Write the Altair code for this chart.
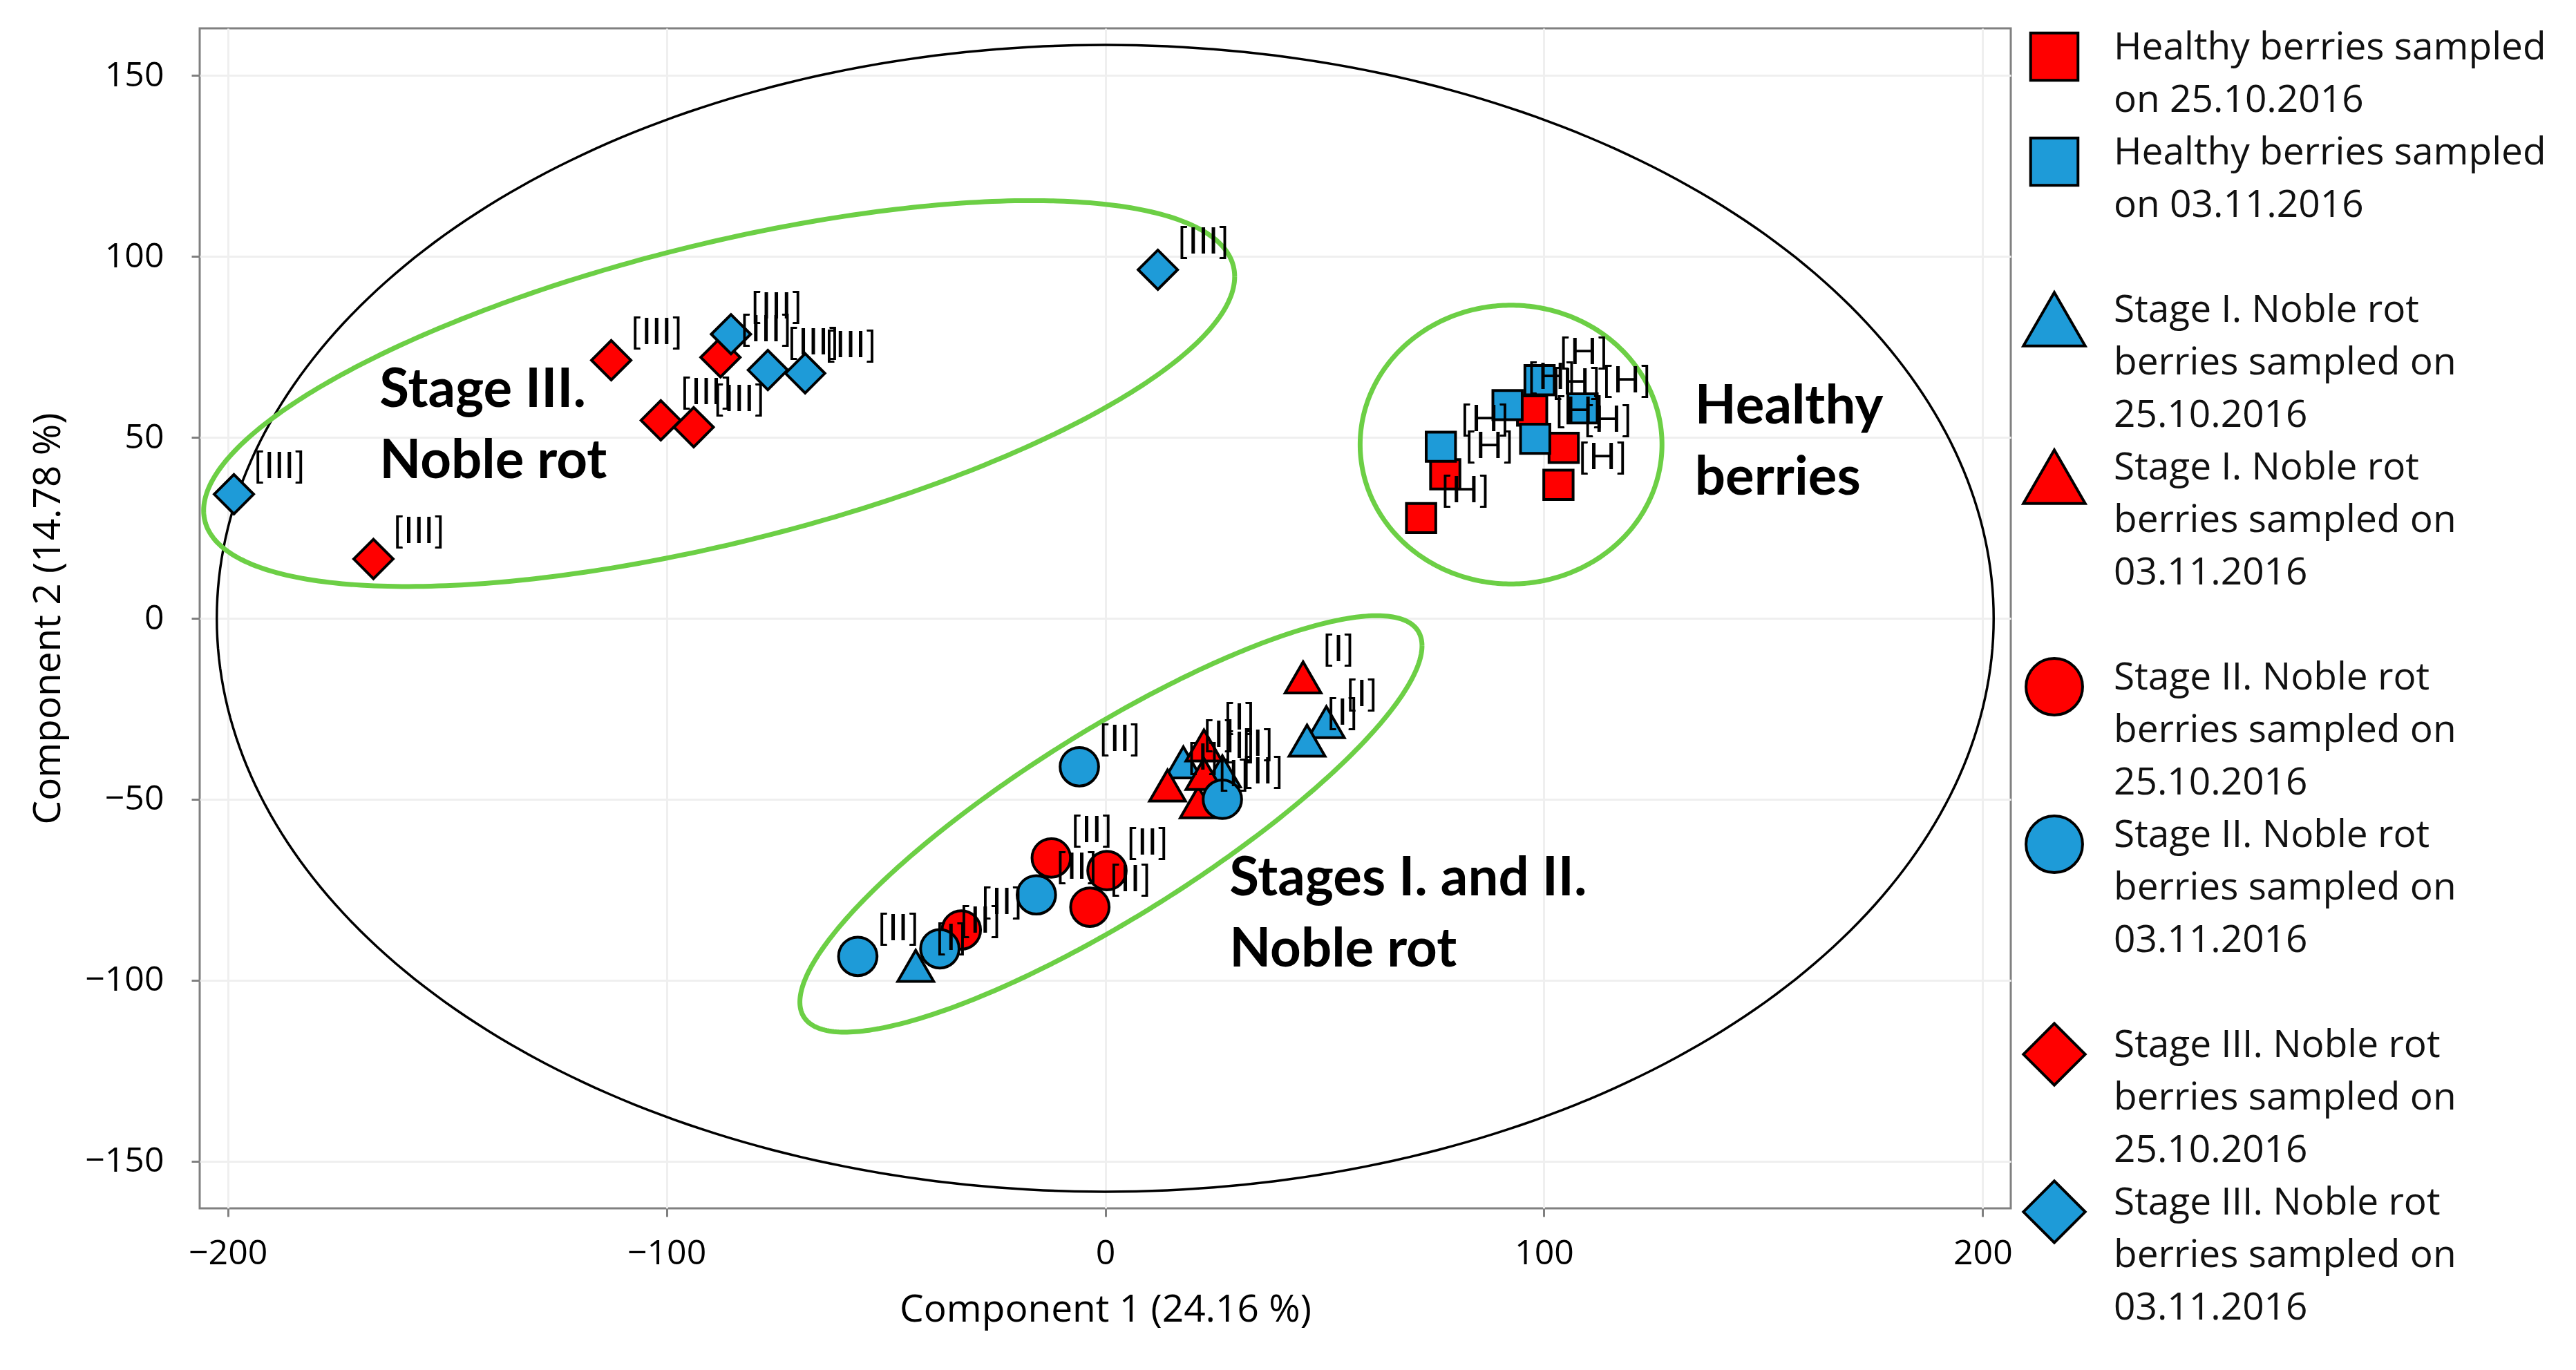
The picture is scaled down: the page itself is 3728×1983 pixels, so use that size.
import altair as alt
import numpy as np
import pandas as pd

# ---------------- data ----------------
GROUP_LABELS = [
    "Healthy berries sampled\non 25.10.2016",
    "Healthy berries sampled\non 03.11.2016",
    "Stage I. Noble rot\nberries sampled on\n25.10.2016",
    "Stage I. Noble rot\nberries sampled on\n03.11.2016",
    "Stage II. Noble rot\nberries sampled on\n25.10.2016",
    "Stage II. Noble rot\nberries sampled on\n03.11.2016",
    "Stage III. Noble rot\nberries sampled on\n25.10.2016",
    "Stage III. Noble rot\nberries sampled on\n03.11.2016",
]
GROUP_STAGE = ["H", "H", "I", "I", "II", "II", "III", "III"]
GROUP_TAG = ["[H]", "[H]", "[I]", "[I]", "[II]", "[II]", "[III]", "[III]"]

h25_x = [72.0, 77.5, 97.3, 104.5, 103.3]
h25_y = [27.7, 39.8, 57.4, 47.1, 36.9]
h03_x = [76.5, 91.7, 99.0, 98.0, 108.8]
h03_y = [47.4, 58.9, 65.8, 49.6, 58.0]
s1_25_x = [50.4, 46.0, 17.8, 26.7, -43.2]
s1_25_y = [-28.7, -33.8, -39.8, -42.3, -96.0]
s1_03_x = [45.1, 22.5, 14.2, 21.2, 22.5]
s1_03_y = [-16.3, -35.1, -46.2, -50.8, -43.0]
s2_25_x = [-12.3, 0.4, -3.5, -32.8]
s2_25_y = [-66.2, -69.7, -79.8, -86.1]
s2_03_x = [-5.9, 26.7, -15.7, -56.4, -37.7]
s2_03_y = [-41.0, -50.0, -76.4, -93.4, -91.3]
s3_25_x = [-166.8, -112.6, -87.7, -101.3, -93.8]
s3_25_y = [16.4, 71.3, 72.1, 54.7, 52.8]
s3_03_x = [-198.6, -85.3, -76.9, -68.4, 12.0]
s3_03_y = [34.3, 78.5, 68.6, 67.7, 96.3]

SERIES_X = [h25_x, h03_x, s1_25_x, s1_03_x, s2_25_x, s2_03_x, s3_25_x, s3_03_x]
SERIES_Y = [h25_y, h03_y, s1_25_y, s1_03_y, s2_25_y, s2_03_y, s3_25_y, s3_03_y]

NOTE_TEXT = ["Stage III.\nNoble rot", "Healthy\nberries", "Stages I. and II.\nNoble rot"]
NOTE_X = [-165.4, 134.4, 28.3]
NOTE_Y = [58.5, 53.8, -76.6]

# confidence ellipses: centre + two conjugate semi-diameters (data units)
ELL_NAME = ["T2", "Stage III", "Healthy", "Stages I-II"]
ELL_CX = [0.0, -88.0, 92.5, 1.3]
ELL_CY = [0.0, 62.1, 48.0, -56.8]
ELL_AX = [202.5, 117.5, 34.4, 70.9]
ELL_AY = [0.0, 32.3, 0.0, 49.2]
ELL_BX = [0.0, 0.0, 0.0, 0.0]
ELL_BY = [158.4, 42.4, 38.5, 29.8]

X_TICKS = [-200, -100, 0, 100, 200]
Y_TICKS = [-150, -100, -50, 0, 50, 100, 150]

# ---------------- styles ----------------
RED = "#FF0000"
BLUE = "#1E9BD8"
GREEN = "#6CCF45"
STAGE_SHAPE = {"H": "square", "I": "triangle-up", "II": "circle", "III": "diamond"}
SHAPE_SIZE = {"square": 1800, "triangle-up": 2700, "circle": 3100, "diamond": 3250}
LEGEND_SIZE = {"square": 4700, "triangle-up": 8000, "circle": 6700, "diamond": 8000}
GROUP_COLOR = [RED, BLUE, BLUE, RED, RED, BLUE, RED, BLUE]
GROUP_SHAPE = [STAGE_SHAPE[s] for s in GROUP_STAGE]

# ---------------- tables ----------------
rows = []
for g, xs, ys, tag, shp in zip(GROUP_LABELS, SERIES_X, SERIES_Y, GROUP_TAG, GROUP_SHAPE):
    for xv, yv in zip(xs, ys):
        rows.append({"group": g, "x": xv, "y": yv, "tag": tag, "psize": SHAPE_SIZE[shp]})
pts = pd.DataFrame(rows)

notes = pd.DataFrame({"text": NOTE_TEXT, "x": NOTE_X, "y": NOTE_Y})

t = np.linspace(0, 2 * np.pi, 361)
erows = []
for n, cx, cy, ax, ay, bx, by in zip(ELL_NAME, ELL_CX, ELL_CY, ELL_AX, ELL_AY, ELL_BX, ELL_BY):
    for i, tt in enumerate(t):
        erows.append({"name": n, "i": i,
                      "x": cx + ax * np.cos(tt) + bx * np.sin(tt),
                      "y": cy + ay * np.cos(tt) + by * np.sin(tt)})
ell = pd.DataFrame(erows)
ell_black = ell[ell["name"] == "T2"]
ell_green = ell[ell["name"] != "T2"]

# legend rows: stacked by number of text lines, a blank line between stages
pos, p, prev = [], 0, None
for lab, st in zip(GROUP_LABELS, GROUP_STAGE):
    if prev is not None and st != prev:
        p += 1
    pos.append(p)
    p += lab.count("\n") + 1
    prev = st
leg = pd.DataFrame({"label": GROUP_LABELS, "pos": pos, "fill": GROUP_COLOR,
                    "shape": GROUP_SHAPE,
                    "lsize": [LEGEND_SIZE[s] for s in GROUP_SHAPE]})

# ---------------- chart ----------------
X = alt.X("x:Q", scale=alt.Scale(domain=[-206.4, 206.4], nice=False, zero=False),
          axis=alt.Axis(values=X_TICKS, title="Component 1 (24.16 %)",
                        labelPadding=28, titlePadding=30))
Y = alt.Y("y:Q", scale=alt.Scale(domain=[-163, 163], nice=False, zero=False),
          axis=alt.Axis(values=Y_TICKS, title="Component 2 (14.78 %)",
                        labelPadding=40, titlePadding=24))

black_line = alt.Chart(ell_black).mark_line(stroke="black", strokeWidth=3.5, clip=True).encode(
    x=X, y=Y, order="i:Q", detail="name:N")
green_line = alt.Chart(ell_green).mark_line(stroke=GREEN, strokeWidth=7, clip=True).encode(
    x=X, y=Y, order="i:Q", detail="name:N")

points = alt.Chart(pts).mark_point(filled=True, stroke="black", strokeWidth=4, opacity=1).encode(
    x=X, y=Y,
    fill=alt.Fill("group:N", scale=alt.Scale(domain=GROUP_LABELS, range=GROUP_COLOR), legend=None),
    shape=alt.Shape("group:N", scale=alt.Scale(domain=GROUP_LABELS, range=GROUP_SHAPE), legend=None),
    size=alt.Size("psize:Q", scale=None),
)
tags = alt.Chart(pts).mark_text(align="left", baseline="alphabetic", dx=28, dy=-23,
                                font="Lato", fontSize=52, color="black").encode(
    x=X, y=Y, text="tag:N")
note_txt = alt.Chart(notes).mark_text(align="left", baseline="alphabetic", font="Lato",
                                      fontWeight="bold", fontSize=78, lineHeight=103,
                                      lineBreak="\n", color="black").encode(
    x=X, y=Y, text="text:N")

main = alt.layer(black_line, green_line, points, tags, note_txt).properties(width=2621, height=1708)

LY = alt.Y("pos:Q", scale=alt.Scale(domain=[-0.54, 24.46], reverse=True, nice=False, zero=False),
           axis=None)
leg_sym = alt.Chart(leg).mark_point(filled=True, stroke="black", strokeWidth=4, opacity=1).encode(
    x=alt.value(57), y=LY,
    fill=alt.Fill("fill:N", scale=None),
    shape=alt.Shape("shape:N", scale=None),
    size=alt.Size("lsize:Q", scale=None),
)
leg_txt = alt.Chart(leg).mark_text(align="left", baseline="alphabetic", dy=4, font="Open Sans",
                                   fontSize=55, lineHeight=76, lineBreak="\n", color="#111111").encode(
    x=alt.value(143), y=LY, text="label:N")
legend_chart = alt.layer(leg_sym, leg_txt).properties(
    width=770, height=1900, view=alt.ViewBackground(stroke="transparent"))

chart = alt.hconcat(main, legend_chart, spacing=0).resolve_scale(
    x="independent", y="independent"
).properties(
    padding={"left": 33, "top": 30, "right": 5, "bottom": 5},
    background="white",
).configure_view(
    stroke="#808080", strokeWidth=3
).configure_axis(
    domain=False, grid=True, gridColor="#efefef", gridWidth=3,
    tickColor="#808080", tickWidth=3, tickSize=12,
    labelFont="Open Sans", labelFontSize=50, labelColor="#000000",
    titleFont="Open Sans", titleFontSize=55, titleFontWeight="normal", titleColor="#000000",
)

chart.save("out.html", embed_options={"renderer": "svg", "actions": False})
